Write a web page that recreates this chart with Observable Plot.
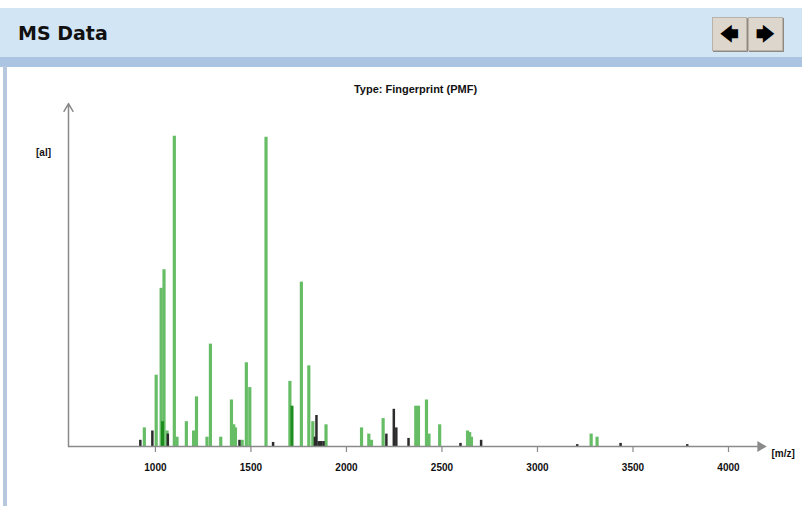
<!DOCTYPE html>
<html>
<head>
<meta charset="utf-8">
<script src="https://cdn.jsdelivr.net/npm/d3@7"></script>
<script src="https://cdn.jsdelivr.net/npm/@observablehq/plot@0.6"></script>
<style>
  html, body { margin: 0; padding: 0; background: #ffffff; }
  body { width: 802px; height: 506px; position: relative; overflow: hidden; font-family: "Liberation Sans", Arial, sans-serif; }
  #header { position: absolute; left: 0; top: 8px; width: 802px; height: 50px; background: #d2e5f4; }
  #strip { position: absolute; left: 0; top: 57px; width: 802px; height: 10px; background: #abc4e2; }
  #leftborder { position: absolute; left: 3px; top: 66px; width: 4px; height: 440px; background: #b7c7de; }
  #title { position: absolute; left: 18px; top: 22px; font: bold 19px "DejaVu Sans", sans-serif; color: #111; }
  .btn { position: absolute; top: 17px; width: 33px; height: 32px; background: #dcd6cc; border: 1px solid #b8b2a8; box-shadow: 1px 1px 0 #8e8a82; font: bold 18px "DejaVu Sans", sans-serif; color: #000; text-align: center; line-height: 31px; }
  #chart { position: absolute; left: 0; top: 70px; }
</style>
</head>
<body>
<div id="header"></div>
<div id="strip"></div>
<div id="leftborder"></div>
<div id="title">MS Data</div>
<div class="btn" style="left:712px">&#129092;</div>
<div class="btn" style="left:748px">&#129094;</div>
<div id="chart"></div>
<script>
// Peaks (m/z, relative intensity %)
const greenMz = [942, 1004, 1030, 1045, 1061, 1099, 1113, 1162, 1200, 1215, 1270, 1288, 1342, 1398, 1410, 1419, 1454, 1476, 1494, 1579, 1704, 1764, 1803, 1824, 1893, 2079, 2117, 2131, 2192, 2363, 2377, 2419, 2432, 2488, 2634, 2645, 2654, 3281, 3312];
const greenInt = [6, 23, 51, 57, 5, 100, 3, 8, 5, 16, 3, 33, 3, 15, 7, 6, 2, 27, 19, 99.7, 21, 53, 26, 8, 7, 6, 4, 2, 9, 13, 13, 15, 4, 7, 5, 4.5, 3, 4, 3];
const darkMz = [1037, 1715];
const darkInt = [8, 13];
const blackMz = [921, 984, 1065, 1440, 1616, 1835, 1843, 1855, 1868, 1880, 2209, 2248, 2261, 2325, 2597, 2705, 3208, 3435, 3784];
const blackInt = [2, 5, 4, 2, 1.3, 3, 10, 1.6, 1.6, 1.6, 4, 12, 6, 2.6, 1, 2, 0.6, 1, 0.6];
const xTicks = [1000, 1500, 2000, 2500, 3000, 3500, 4000];
const chartTitle = "Type: Fingerprint (PMF)";
const xLabel = "[m/z]";
const yLabel = "[al]";

const green = greenMz.map((mz, i) => ({mz, h: greenInt[i]}));
const dark = darkMz.map((mz, i) => ({mz, h: darkInt[i]}));
const black = blackMz.map((mz, i) => ({mz, h: blackInt[i]}));

const xMin = 545, xMax = 4178, yMax = 110.6;
const font = "Liberation Sans, Arial, sans-serif";

const chart = Plot.plot({
  width: 802,
  height: 436,
  marginLeft: 68,
  marginRight: 40,
  marginTop: 33,
  marginBottom: 60,
  style: {background: "transparent", fontFamily: font, overflow: "visible"},
  x: {domain: [xMin, xMax], axis: null},
  y: {domain: [0, yMax], axis: null},
  marks: [
    Plot.ruleX(green, {x: "mz", y1: 0, y2: "h", stroke: "#66bd66", strokeWidth: 3.2}),
    Plot.ruleX(dark, {x: "mz", y1: 0, y2: "h", stroke: "#1e8c1e", strokeWidth: 3}),
    Plot.ruleX(black, {x: "mz", y1: 0, y2: "h", stroke: "#2b2b2b", strokeWidth: 2.5}),
    Plot.axisX({ticks: xTicks, tickSize: 6, tickPadding: 11, stroke: "#8a8a8a", strokeWidth: 1.2, fontWeight: "bold", fontSize: 10, fill: "#111", label: null, tickFormat: d => String(d)}),
    Plot.ruleY([0], {x1: xMin, x2: xMax, stroke: "#8a8a8a", strokeWidth: 1.5}),
    Plot.dot([0], {x: xMax, y: 0, dx: -2, symbol: "triangle", rotate: 90, r: 4, fill: "#8a8a8a", stroke: "none"}),
    Plot.arrow([0], {x1: xMin, x2: xMin, y1: 0, y2: yMax, stroke: "#8a8a8a", strokeWidth: 1.5, headLength: 9, bend: 0}),
    Plot.text([xLabel], {x: xMax, y: 0, dx: 9, dy: 7, text: d => d, textAnchor: "start", fontWeight: "bold", fontSize: 10, fill: "#111"}),
    Plot.text([yLabel], {x: xMin, y: 94.8, dx: -25, text: d => d, fontWeight: "bold", fontSize: 10, fill: "#111"}),
    Plot.text([chartTitle], {frameAnchor: "top", dy: -18, text: d => d, fontWeight: "bold", fontSize: 11, fill: "#111"})
  ]
});
document.getElementById("chart").appendChild(chart);
</script>
</body>
</html>
